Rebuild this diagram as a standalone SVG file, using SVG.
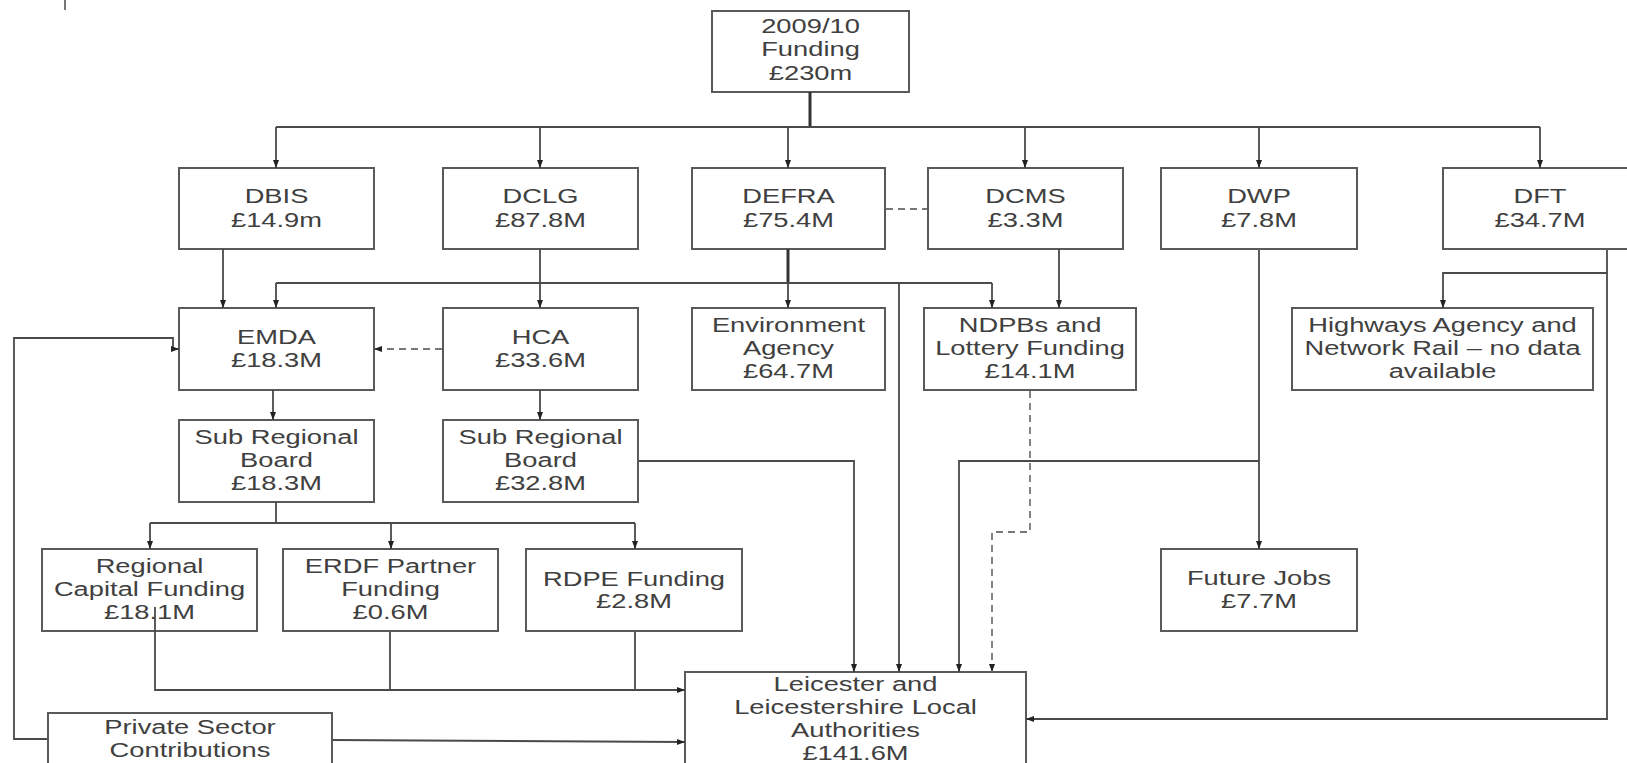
<svg xmlns="http://www.w3.org/2000/svg" width="1627" height="763" viewBox="0 0 1627 763">
<style>
.box{fill:#fff;stroke:#5a5a5a;stroke-width:2}
.t{font-family:"Liberation Sans",Arial,sans-serif;font-size:19.5px;fill:#404040;text-anchor:middle}
.c{fill:none;stroke:#4a4a4a;stroke-width:1.8}
.thick{stroke-width:3;stroke:#333}
.d{stroke-dasharray:7 5;stroke:#777}
</style>
<defs>
<marker id="ah" viewBox="0 0 8 8" refX="8" refY="4" markerWidth="8" markerHeight="8" markerUnits="userSpaceOnUse" orient="auto"><path d="M0,1 L8,4 L0,7 z" fill="#222"/></marker>
</defs>
<rect width="1627" height="763" fill="#fff"/>
<line x1="65" y1="0" x2="65" y2="10" stroke="#777" stroke-width="2"/>

<g id="funding"><rect class="box" x="712" y="11" width="197" height="81"/>
<text class="t" transform="translate(810.5,33) scale(1.4,1)"><tspan x="0">2009/10</tspan><tspan x="0" dy="23.5">Funding</tspan><tspan x="0" dy="23.5">£230m</tspan></text></g>

<g id="dbis"><rect class="box" x="179" y="168" width="195" height="81"/>
<text class="t" transform="translate(276.5,203) scale(1.4,1)"><tspan x="0">DBIS</tspan><tspan x="0" dy="24">£14.9m</tspan></text></g>
<g id="dclg"><rect class="box" x="443" y="168" width="195" height="81"/>
<text class="t" transform="translate(540.5,203) scale(1.4,1)"><tspan x="0">DCLG</tspan><tspan x="0" dy="24">£87.8M</tspan></text></g>
<g id="defra"><rect class="box" x="692" y="168" width="193" height="81"/>
<text class="t" transform="translate(788.5,203) scale(1.4,1)"><tspan x="0">DEFRA</tspan><tspan x="0" dy="24">£75.4M</tspan></text></g>
<g id="dcms"><rect class="box" x="928" y="168" width="195" height="81"/>
<text class="t" transform="translate(1025.5,203) scale(1.4,1)"><tspan x="0">DCMS</tspan><tspan x="0" dy="24">£3.3M</tspan></text></g>
<g id="dwp"><rect class="box" x="1161" y="168" width="196" height="81"/>
<text class="t" transform="translate(1259,203) scale(1.4,1)"><tspan x="0">DWP</tspan><tspan x="0" dy="24">£7.8M</tspan></text></g>
<g id="dft"><rect class="box" x="1443" y="168" width="196" height="81"/>
<text class="t" transform="translate(1540,203) scale(1.4,1)"><tspan x="0">DFT</tspan><tspan x="0" dy="24">£34.7M</tspan></text></g>

<g id="emda"><rect class="box" x="179" y="308" width="195" height="82"/>
<text class="t" transform="translate(276.5,344) scale(1.4,1)"><tspan x="0">EMDA</tspan><tspan x="0" dy="23.5">£18.3M</tspan></text></g>
<g id="hca"><rect class="box" x="443" y="308" width="195" height="82"/>
<text class="t" transform="translate(540.5,344) scale(1.4,1)"><tspan x="0">HCA</tspan><tspan x="0" dy="23.5">£33.6M</tspan></text></g>
<g id="env"><rect class="box" x="692" y="308" width="193" height="82"/>
<text class="t" transform="translate(788.5,332) scale(1.4,1)"><tspan x="0">Environment</tspan><tspan x="0" dy="23">Agency</tspan><tspan x="0" dy="23">£64.7M</tspan></text></g>
<g id="ndpb"><rect class="box" x="924" y="308" width="212" height="82"/>
<text class="t" transform="translate(1030,332) scale(1.4,1)"><tspan x="0">NDPBs and</tspan><tspan x="0" dy="23">Lottery Funding</tspan><tspan x="0" dy="23">£14.1M</tspan></text></g>
<g id="highways"><rect class="box" x="1292" y="308" width="301" height="82"/>
<text class="t" transform="translate(1442.5,332) scale(1.4,1)"><tspan x="0">Highways Agency and</tspan><tspan x="0" dy="23">Network Rail – no data</tspan><tspan x="0" dy="23">available</tspan></text></g>

<g id="srb1"><rect class="box" x="179" y="420" width="195" height="82"/>
<text class="t" transform="translate(276.5,444) scale(1.4,1)"><tspan x="0">Sub Regional</tspan><tspan x="0" dy="23">Board</tspan><tspan x="0" dy="23">£18.3M</tspan></text></g>
<g id="srb2"><rect class="box" x="443" y="420" width="195" height="82"/>
<text class="t" transform="translate(540.5,444) scale(1.4,1)"><tspan x="0">Sub Regional</tspan><tspan x="0" dy="23">Board</tspan><tspan x="0" dy="23">£32.8M</tspan></text></g>

<g id="rcf"><rect class="box" x="42" y="549" width="215" height="82"/>
<text class="t" transform="translate(149.5,573) scale(1.4,1)"><tspan x="0">Regional</tspan><tspan x="0" dy="23">Capital Funding</tspan><tspan x="0" dy="23">£18.1M</tspan></text></g>
<g id="erdf"><rect class="box" x="283" y="549" width="215" height="82"/>
<text class="t" transform="translate(390.5,573) scale(1.4,1)"><tspan x="0">ERDF Partner</tspan><tspan x="0" dy="23">Funding</tspan><tspan x="0" dy="23">£0.6M</tspan></text></g>
<g id="rdpe"><rect class="box" x="526" y="549" width="216" height="82"/>
<text class="t" transform="translate(634,586) scale(1.4,1)"><tspan x="0">RDPE Funding</tspan><tspan x="0" dy="22.5">£2.8M</tspan></text></g>
<g id="futurejobs"><rect class="box" x="1161" y="549" width="196" height="82"/>
<text class="t" transform="translate(1259,585) scale(1.4,1)"><tspan x="0">Future Jobs</tspan><tspan x="0" dy="23">£7.7M</tspan></text></g>

<g id="lla"><rect class="box" x="685" y="672" width="341" height="120"/>
<text class="t" transform="translate(855.5,691) scale(1.4,1)"><tspan x="0">Leicester and</tspan><tspan x="0" dy="23">Leicestershire Local</tspan><tspan x="0" dy="23">Authorities</tspan><tspan x="0" dy="23">£141.6M</tspan></text></g>
<g id="private"><rect class="box" x="48" y="713" width="284" height="80"/>
<text class="t" transform="translate(190,734) scale(1.4,1)"><tspan x="0">Private Sector</tspan><tspan x="0" dy="23">Contributions</tspan></text></g>

<g id="connectors">
<path class="c thick" d="M810,92 V127"/>
<path class="c" d="M276,127 H1540"/>
<path class="c" d="M276,127 V168" marker-end="url(#ah)"/>
<path class="c" d="M540,127 V168" marker-end="url(#ah)"/>
<path class="c" d="M788,127 V168" marker-end="url(#ah)"/>
<path class="c" d="M1025,127 V168" marker-end="url(#ah)"/>
<path class="c" d="M1259,127 V168" marker-end="url(#ah)"/>
<path class="c" d="M1540,127 V168" marker-end="url(#ah)"/>
<path class="c d" d="M886,209 H927"/>
<path class="c" d="M223,249 V308" marker-end="url(#ah)"/>
<path class="c" d="M540,249 V308" marker-end="url(#ah)"/>
<path class="c thick" d="M788,249 V283"/>
<path class="c" d="M788,283 V308" marker-end="url(#ah)"/>
<path class="c" d="M276,283 H992"/>
<path class="c" d="M276,283 V308" marker-end="url(#ah)"/>
<path class="c" d="M992,283 V308" marker-end="url(#ah)"/>
<path class="c" d="M899,283 V672" marker-end="url(#ah)"/>
<path class="c" d="M1059,249 V308" marker-end="url(#ah)"/>
<path class="c d" d="M442,349 H374" marker-end="url(#ah)"/>
<path class="c" d="M47,739 H14 V338 H173 V349 H179" marker-end="url(#ah)"/>
<path class="c" d="M273,390 V420" marker-end="url(#ah)"/>
<path class="c" d="M540,390 V420" marker-end="url(#ah)"/>
<path class="c" d="M276,502 V523"/>
<path class="c" d="M150,523 H635"/>
<path class="c" d="M150,523 V549" marker-end="url(#ah)"/>
<path class="c" d="M391,523 V549" marker-end="url(#ah)"/>
<path class="c" d="M635,523 V549" marker-end="url(#ah)"/>
<path class="c" d="M639,461 H854 V672" marker-end="url(#ah)"/>
<path class="c d" d="M1030,391 V532 H992 V672" marker-end="url(#ah)"/>
<path class="c" d="M1259,250 V549" marker-end="url(#ah)"/>
<path class="c" d="M1259,461 H959 V672" marker-end="url(#ah)"/>
<path class="c" d="M1607,250 V719 H1026" marker-end="url(#ah)"/>
<path class="c" d="M1607,273 H1443 V308" marker-end="url(#ah)"/>
<path class="c" d="M155,607 V690 H685" marker-end="url(#ah)"/>
<path class="c" d="M390,632 V690"/>
<path class="c" d="M635,632 V690"/>
<path class="c" d="M333,740 L685,742" marker-end="url(#ah)"/>
</g>
</svg>
